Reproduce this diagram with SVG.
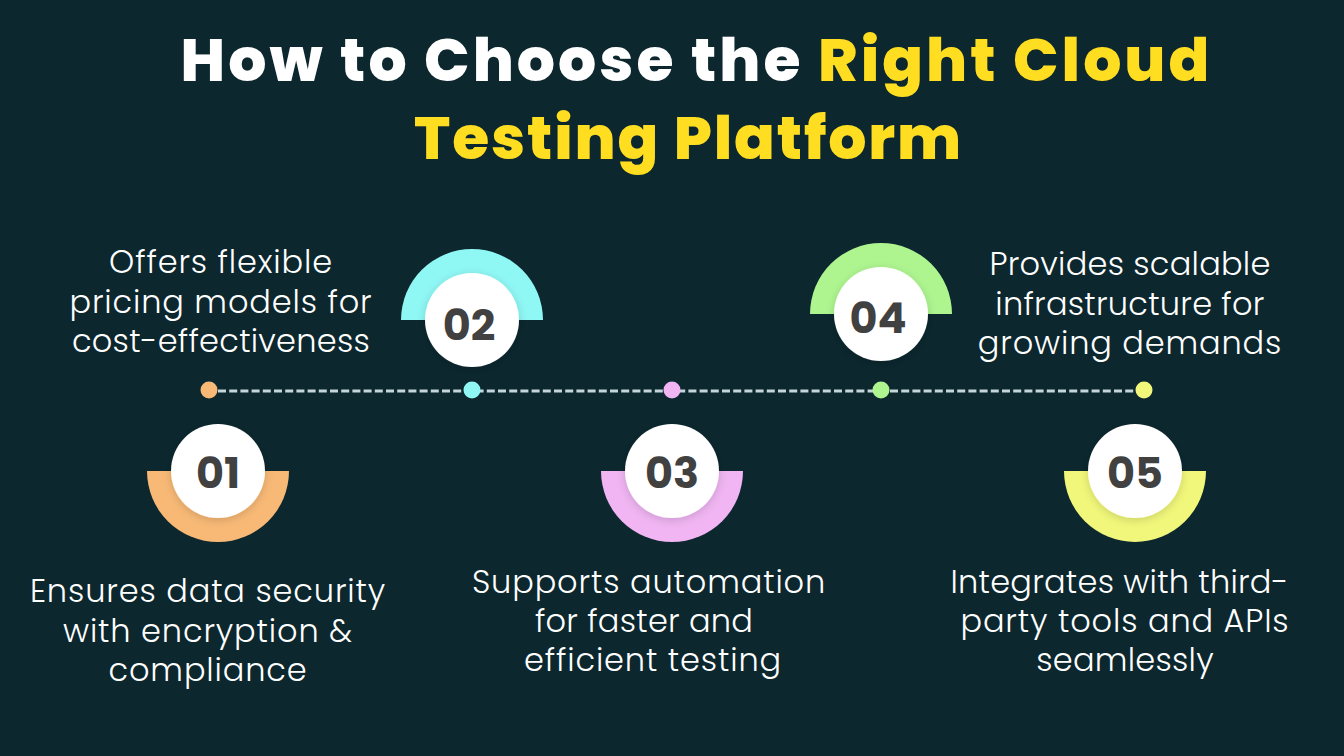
<svg xmlns="http://www.w3.org/2000/svg" width="1344" height="756" viewBox="0 0 1344 756">
<defs>
<filter id="sh" x="-30%" y="-30%" width="160%" height="160%"><feDropShadow dx="0" dy="2" stdDeviation="4" flood-color="#000" flood-opacity="0.16"/></filter>
</defs>
<style>
.t{font-family:"Poppins","Inter","Liberation Sans",sans-serif;font-weight:800;font-size:60px;letter-spacing:3.05px;fill:#fff;text-anchor:middle}
.y{fill:#ffde21}
.t2{letter-spacing:1.9px}
.b{font-family:"Poppins","Open Sans","Noto Sans",sans-serif;font-weight:300;font-size:32px;letter-spacing:0.85px;fill:#fff;text-anchor:middle}
.tight{letter-spacing:0.25px}
.n{font-family:"Poppins","Inter","Liberation Sans",sans-serif;font-weight:700;font-size:43px;fill:#414141;text-anchor:middle}
.c{fill:#fff;filter:url(#sh)}
</style>
<rect width="1344" height="756" fill="#0c272e"/>
<g id="title">
<text class="t" x="696.5" y="81">How to Choose the <tspan class="y">Right Cloud</tspan></text>
<text class="t t2 y" x="688.5" y="159">Testing Platform</text>
</g>
<g id="connectors">
<line x1="218" y1="391" x2="1136" y2="391" stroke="#c3d4da" stroke-width="3" stroke-dasharray="8 3.2"/>
<circle cx="209" cy="390" r="8.5" fill="#f8b976"/>
<circle cx="472" cy="390" r="8.5" fill="#8ff7f4"/>
<circle cx="672" cy="390" r="8.5" fill="#f0b5f2"/>
<circle cx="881" cy="390" r="8.5" fill="#aef590"/>
<circle cx="1144" cy="390" r="8.5" fill="#f0f77a"/>
</g>
<g id="node-01">
<path d="M147 471h142a71 71 0 0 1-142 0z" fill="#f8b976"/>
<circle class="c" cx="218" cy="471" r="47"/>
<text class="n" x="218" y="488">01</text>
<text class="b"><tspan x="208" y="602">Ensures data security</tspan><tspan x="208" y="642">with encryption &amp;</tspan><tspan x="208" y="681">compliance</tspan></text>
</g>
<g id="node-02">
<path d="M401 320h142a71 71 0 0 0-142 0z" fill="#8ff7f4"/>
<circle class="c" cx="472" cy="320" r="47"/>
<text class="n" x="469" y="340">02</text>
<text class="b"><tspan x="221" y="273">Offers flexible</tspan><tspan x="221" y="313">pricing models for</tspan><tspan x="221" y="352" class="tight">cost-effectiveness</tspan></text>
</g>
<g id="node-03">
<path d="M601 471h142a71 71 0 0 1-142 0z" fill="#f0b5f2"/>
<circle class="c" cx="672" cy="471" r="47"/>
<text class="n" x="672" y="488">03</text>
<text class="b"><tspan x="649" y="593">Supports automation</tspan><tspan x="644" y="632" class="tight">for faster and</tspan><tspan x="653" y="671">efficient testing</tspan></text>
</g>
<g id="node-04">
<path d="M810 314h142a71 71 0 0 0-142 0z" fill="#aef590"/>
<circle class="c" cx="881" cy="314" r="47"/>
<text class="n" x="878" y="333">04</text>
<text class="b"><tspan x="1130" y="275" class="tight">Provides scalable</tspan><tspan x="1130" y="315" class="tight">infrastructure for</tspan><tspan x="1130" y="354">growing demands</tspan></text>
</g>
<g id="node-05">
<path d="M1064 471h142a71 71 0 0 1-142 0z" fill="#f0f77a"/>
<circle class="c" cx="1135" cy="471" r="47"/>
<text class="n" x="1135" y="488">05</text>
<text class="b"><tspan x="1119.5" y="593" class="tight">Integrates with third-</tspan><tspan x="1125" y="632">party tools and APIs</tspan><tspan x="1125" y="671" class="tight">seamlessly</tspan></text>
</g>
</svg>
